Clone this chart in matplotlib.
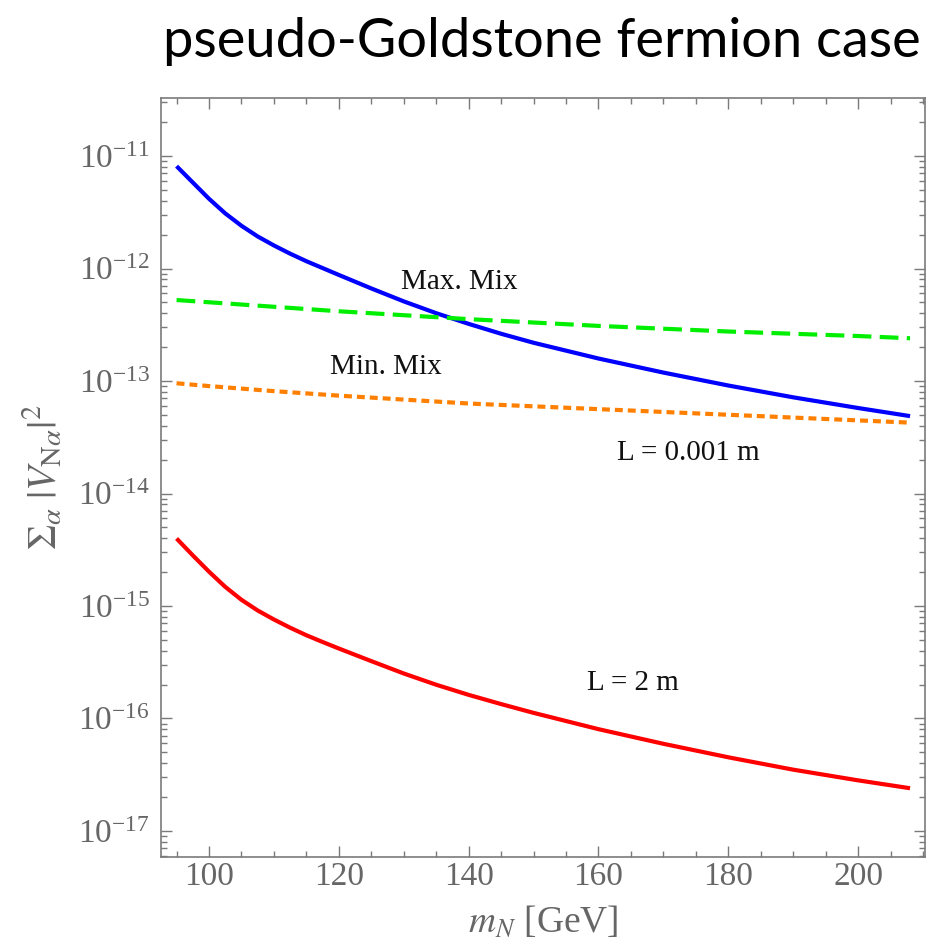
import numpy as np
import matplotlib
matplotlib.use("Agg")
import matplotlib.pyplot as plt
from matplotlib.ticker import MultipleLocator, LogLocator, NullFormatter

plt.rcParams['font.family'] = 'serif'
plt.rcParams['font.serif'] = ['Liberation Serif', 'DejaVu Serif']
plt.rcParams['mathtext.fontset'] = 'stix'

# heavy neutrino mass [GeV]
m_N = np.array([95, 97.5, 100, 102.5, 105, 107.5, 110, 112.5, 115, 117.5, 120, 125,
                130, 135, 140, 145, 150, 160, 170, 180, 190, 200, 208])

# log10 of sum |V_Na|^2
log_max_mix = np.array([-11.09, -11.235, -11.38, -11.51, -11.62, -11.715, -11.795, -11.868,
                        -11.935, -11.996, -12.057, -12.177, -12.292, -12.397, -12.492, -12.58,
                        -12.66, -12.80, -12.925, -13.04, -13.145, -13.24, -13.312])
log_L2m = np.array([-14.40, -14.55, -14.695, -14.83, -14.945, -15.04, -15.12, -15.193,
                    -15.26, -15.32, -15.378, -15.49, -15.60, -15.70, -15.79, -15.872,
                    -15.95, -16.095, -16.225, -16.345, -16.455, -16.55, -16.62])

m_flat = np.array([95, 100, 110, 120, 140, 160, 180, 200, 208])
log_green = np.array([-12.28, -12.30, -12.34, -12.38, -12.45, -12.51, -12.56, -12.60, -12.62])
log_orange = np.array([-13.02, -13.045, -13.09, -13.13, -13.20, -13.25, -13.30, -13.35, -13.37])

gray = '#7a7a7a'

fig = plt.figure(figsize=(9.3, 9.44), dpi=100)
ax = fig.add_axes([0.1731, 0.0922, 0.8215, 0.804])

ax.plot(m_N, 10**log_max_mix, color='#0000ff', lw=3, solid_capstyle='butt', solid_joinstyle='round')
ax.plot(m_flat, 10**log_green, color='#00ee00', lw=3, dashes=(4.5, 2.0), dash_capstyle='butt')
ax.plot(m_flat, 10**log_orange, color='#ff8000', lw=3, dashes=(1.9, 1.2), dash_capstyle='butt')
ax.plot(m_N, 10**log_L2m, color='#ff0000', lw=3, solid_capstyle='butt', solid_joinstyle='round')

ax.set_yscale('log')
ax.set_xlim(92.6, 210.3)
ax.set_ylim(10**-17.231, 10**-10.484)

ax.xaxis.set_major_locator(MultipleLocator(20))
ax.xaxis.set_minor_locator(MultipleLocator(5))
ax.yaxis.set_major_locator(LogLocator(base=10, numticks=20))
ax.yaxis.set_minor_locator(LogLocator(base=10, subs=np.arange(2, 10), numticks=20))
ax.yaxis.set_minor_formatter(NullFormatter())

ax.tick_params(which='both', direction='in', top=True, right=True, color=gray,
               labelcolor='#666666', labelsize=24)
ax.tick_params(which='major', length=8, width=1)
ax.tick_params(which='minor', length=4.5, width=1)
ax.tick_params(axis='y', pad=8)
for s in ax.spines.values():
    s.set_color(gray)
    s.set_linewidth(1.2)

ax.set_xlabel(r'$m_N$ [GeV]', fontsize=27, color='#666666', labelpad=9)
ax.set_ylabel(r'$\Sigma_\alpha\;|V_{\mathrm{N}\alpha}|^2$', fontsize=29, color='#666666', labelpad=9)

ax.text(138.5, 10**-12.12, 'Max. Mix', fontsize=21, ha='center', va='center', color='#111111')
ax.text(127.3, 10**-12.876, 'Min. Mix', fontsize=21, ha='center', va='center', color='#111111')
ax.text(173.8, 10**-13.64, 'L = 0.001 m', fontsize=21, ha='center', va='center', color='#111111')
ax.text(165.3, 10**-15.684, 'L = 2 m', fontsize=21, ha='center', va='center', color='#111111')

fig.text(0.583, 0.956, 'pseudo-Goldstone fermion case', fontsize=39, family='Lato',
         ha='center', va='center', color='black')

fig.savefig('out.png', dpi=100)
